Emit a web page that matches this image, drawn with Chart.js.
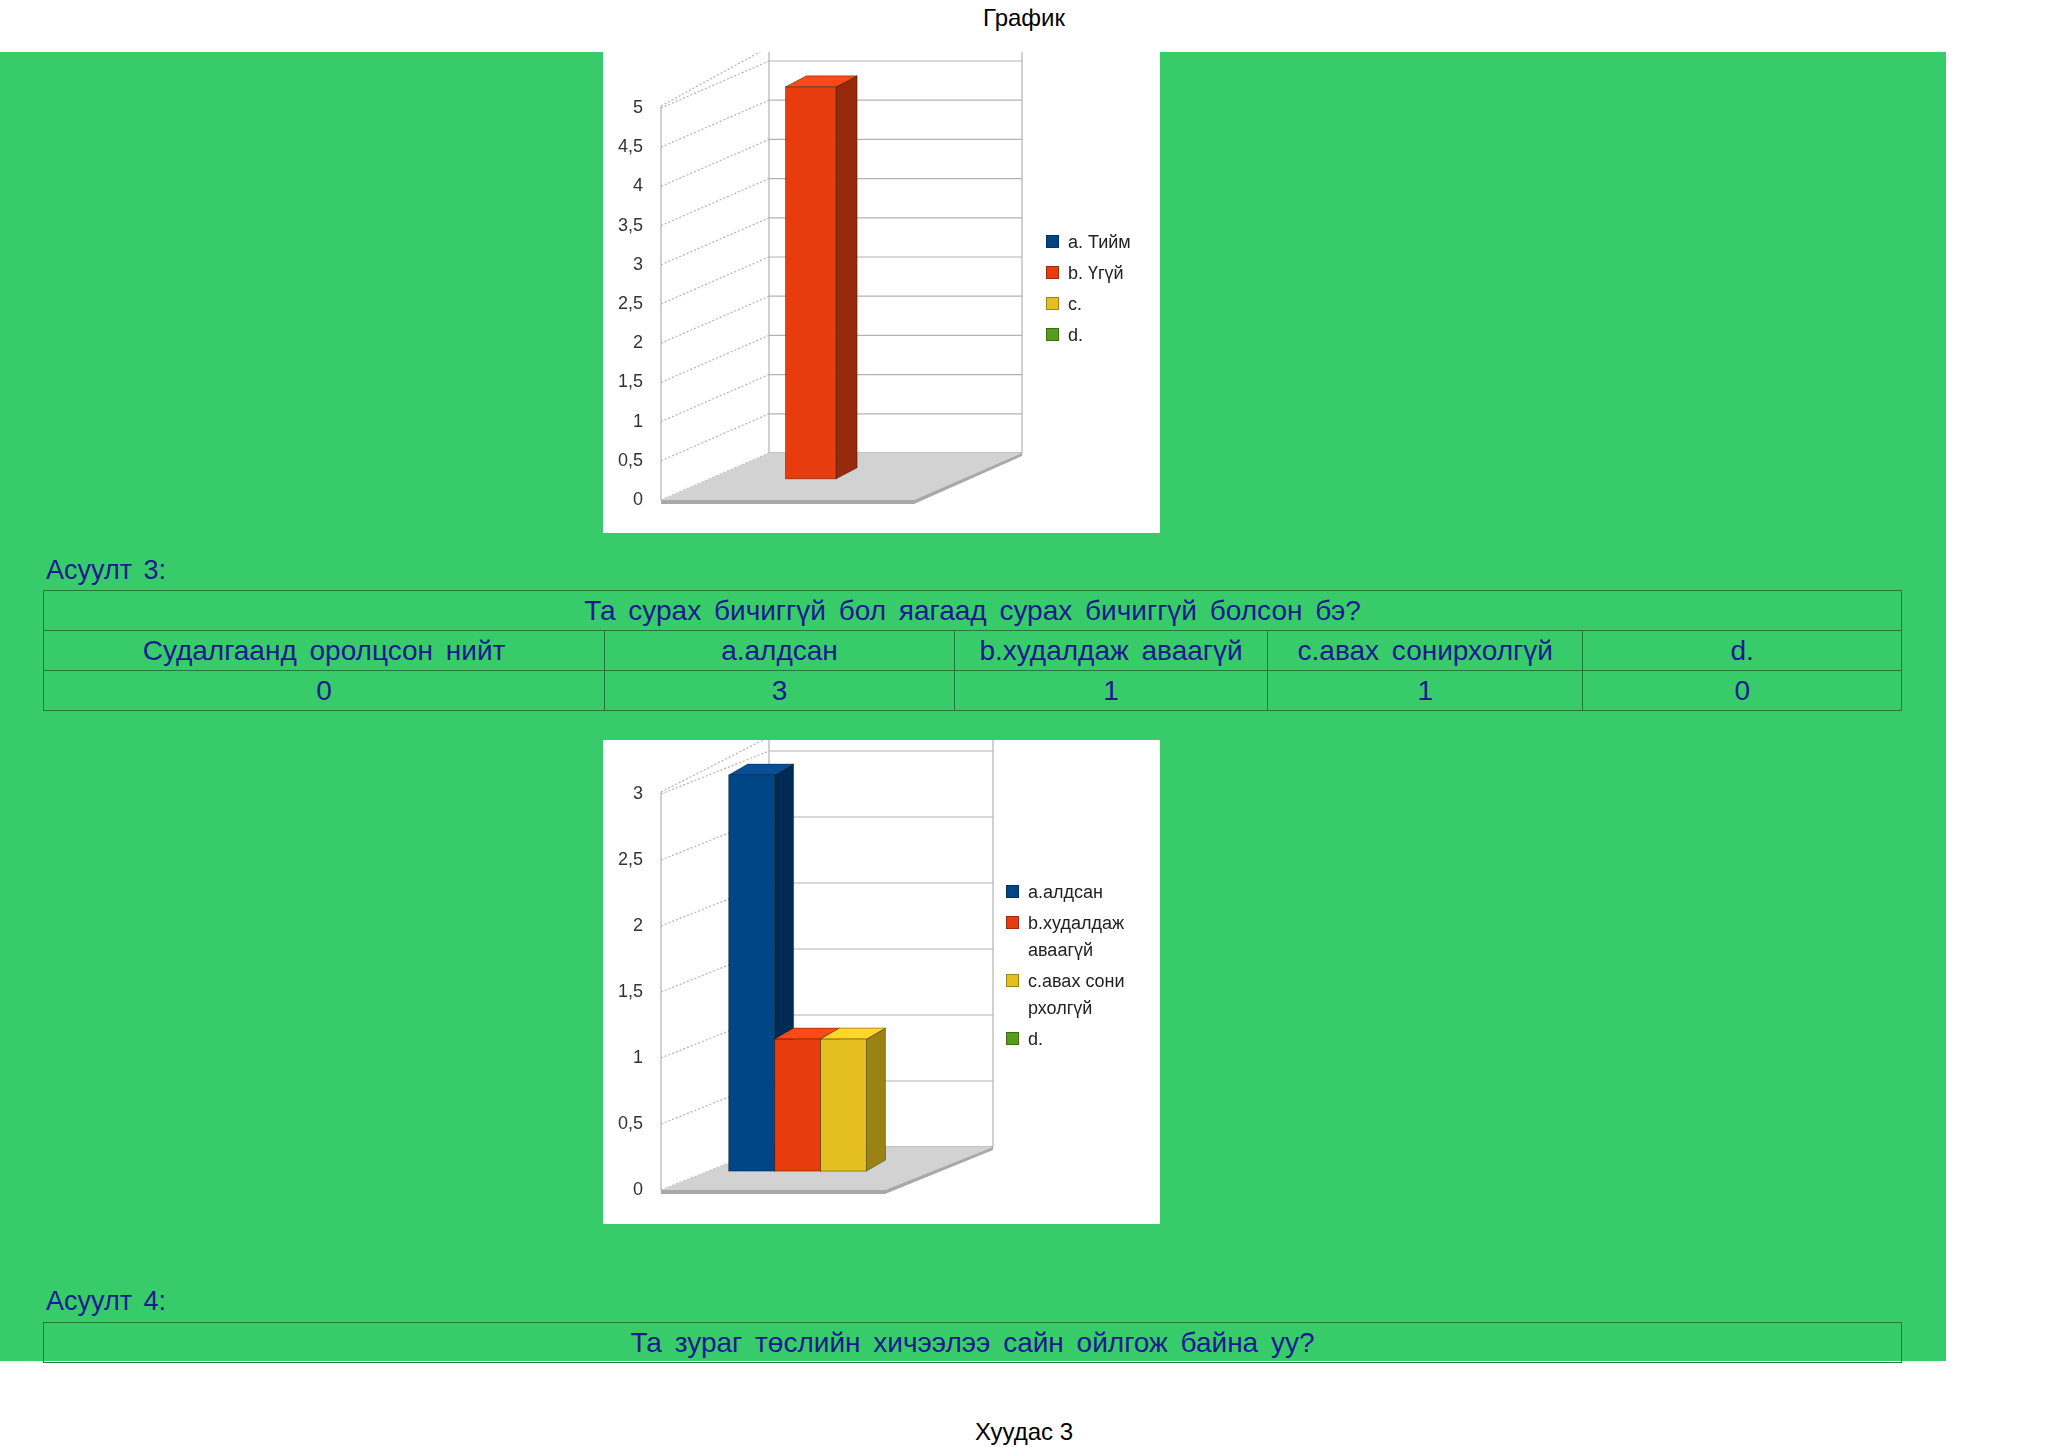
<!DOCTYPE html>
<html>
<head>
<meta charset="utf-8">
<script src="https://cdn.jsdelivr.net/npm/chart.js@4/dist/chart.umd.min.js"></script>
<style>
  body { margin: 0; width: 2048px; height: 1447px; position: relative; background: #fff; font-family: "Liberation Sans", Arial, sans-serif; overflow: hidden; }
  .abs { position: absolute; }
  #green { left: 0; top: 52px; width: 1946px; height: 1309px; background: #37cc69; }
  .box { background: #fff; width: 557px; }
  .q { color: #1a1a8f; font-size: 27px; word-spacing: 4px; }
  table { border-collapse: collapse; color: #1a1a8f; font-size: 28px; word-spacing: 5px; }
  td { border: 1px solid #1d7a3c; text-align: center; padding: 0; height: 39px; }
  .legend { font-size: 18px; color: #222; }
  .legend div { position: relative; padding-left: 22px; line-height: 27px; margin-bottom: 4px; }
  .legend span { position: absolute; left: 0; top: 6px; width: 13px; height: 13px; border: 1px solid rgba(0,0,0,0.3); box-sizing: border-box; }
</style>
</head>
<body>
<div class="abs" style="left:0;width:2048px;top:4px;text-align:center;font-size:24px;">График</div>
<div id="green" class="abs"></div>

<div class="abs box" style="left:603px;top:52px;height:481px;"><canvas id="c1"></canvas></div>
<div id="lg1" class="abs legend" style="left:1046px;top:229px;width:120px;"></div>

<div class="abs q" style="left:46px;top:555px;">Асуулт 3:</div>
<table class="abs" style="left:43px;top:590px;width:1859px;">
  <tr><td colspan="5" id="q3title"></td></tr>
  <tr id="q3head"></tr>
  <tr id="q3vals"></tr>
</table>

<div class="abs box" style="left:603px;top:740px;height:484px;"><canvas id="c2"></canvas></div>
<div id="lg2" class="abs legend" style="left:1006px;top:879px;width:128px;word-break:break-all;"></div>

<div class="abs q" style="left:46px;top:1286px;">Асуулт 4:</div>
<table class="abs" style="left:43px;top:1322px;width:1859px;">
  <tr><td id="q4title"></td></tr>
</table>

<div class="abs" style="left:0;width:2048px;top:1418px;text-align:center;font-size:24px;">Хуудас 3</div>

<script>
// chart 1 (previous question)
const labels1 = ["a. Тийм", "b. Үгүй", "c.", "d."];
const values1 = [0, 5, 0, 0];

// question 3
const q3Title = "Та сурах бичиггүй бол яагаад сурах бичиггүй болсон бэ?";
const q3Headers = ["Судалгаанд оролцсон нийт", "a.алдсан", "b.худалдаж аваагүй", "c.авах сонирхолгүй", "d."];
const q3Values = [0, 3, 1, 1, 0];
const colWidths = [562, 350, 313, 315, 319];
const labels2 = ["a.алдсан", "b.худалдаж аваагүй", "c.авах сонирхолгүй", "d."];
const values2 = [3, 1, 1, 0];

const q4Title = "Та зураг төслийн хичээлээ сайн ойлгож байна уу?";

const fronts = ["#004586", "#e63c0e", "#e3c020", "#579d1c"];
const sides = ["#002b55", "#982a0c", "#9a8215", "#386812"];
const tops = ["#0a4f96", "#ff4a18", "#ffd62a", "#62b020"];

// tables
document.getElementById("q3title").textContent = q3Title;
document.getElementById("q4title").textContent = q4Title;
q3Headers.forEach((h, i) => {
  const td = document.createElement("td");
  td.textContent = h;
  td.style.width = colWidths[i] + "px";
  document.getElementById("q3head").appendChild(td);
  const tv = document.createElement("td");
  tv.textContent = q3Values[i];
  document.getElementById("q3vals").appendChild(tv);
});

function legend(id, labels) {
  const el = document.getElementById(id);
  labels.forEach((l, i) => {
    const d = document.createElement("div");
    d.innerHTML = '<span style="background:' + fronts[i] + '"></span>';
    d.appendChild(document.createTextNode(l));
    el.appendChild(d);
  });
}
legend("lg1", labels1);
legend("lg2", labels2);

// fake 3d look: back wall, side wall, floor and bar faces
const box3d = {
  id: "box3d",
  beforeDatasetsDraw(chart, args, opts) {
    const ctx = chart.ctx;
    const x = chart.scales.x, y = chart.scales.y;
    const dx = opts.dx, dy = opts.dy;
    const left = x.left, right = x.right;
    const zero = y.getPixelForValue(0);
    const top = y.top;
    ctx.save();
    // back wall
    ctx.fillStyle = "#fff";
    ctx.strokeStyle = "#b3b3b3";
    ctx.lineWidth = 1.2;
    ctx.fillRect(left + dx, top - dy - 14, right - left, zero - top + 14);
    ctx.strokeRect(left + dx, top - dy - 14, right - left, zero - top + 14);
    y.ticks.forEach(t => {
      const py = y.getPixelForValue(t.value);
      ctx.beginPath();
      ctx.moveTo(left + dx, py - dy);
      ctx.lineTo(right + dx, py - dy);
      ctx.stroke();
      // side wall lines
      ctx.save();
      ctx.setLineDash([2, 2]);
      ctx.beginPath();
      ctx.moveTo(left, py);
      ctx.lineTo(left + dx, py - dy);
      ctx.stroke();
      ctx.restore();
    });
    ctx.save();
    ctx.setLineDash([2, 2]);
    ctx.beginPath();
    ctx.moveTo(left, top - 2);
    ctx.lineTo(left + dx, top - dy - 14);
    ctx.stroke();
    ctx.restore();
    ctx.beginPath();
    ctx.moveTo(left, top - 2);
    ctx.lineTo(left, zero);
    ctx.stroke();
    // floor
    ctx.fillStyle = "#d2d2d2";
    ctx.beginPath();
    ctx.moveTo(left, zero);
    ctx.lineTo(left + dx, zero - dy);
    ctx.lineTo(right + dx, zero - dy);
    ctx.lineTo(right, zero);
    ctx.closePath();
    ctx.fill();
    ctx.fillStyle = "#a8a8a8";
    ctx.beginPath();
    ctx.moveTo(left, zero);
    ctx.lineTo(right, zero);
    ctx.lineTo(right + dx, zero - dy);
    ctx.lineTo(right + dx, zero - dy + 3);
    ctx.lineTo(right, zero + 4);
    ctx.lineTo(left, zero + 4);
    ctx.closePath();
    ctx.fill();
    // bars
    const ox = dx * opts.frac, oy = -dy * opts.frac;
    const bx = opts.bdx, by = opts.bdy;
    chart.data.datasets.forEach((ds, i) => {
      chart.getDatasetMeta(i).data.forEach((bar, j) => {
        if (!ds.data[j]) return;
        const x0 = bar.x - bar.width / 2 + ox, x1 = bar.x + bar.width / 2 + ox;
        const y0 = bar.y + oy, y1 = bar.base + oy;
        ctx.strokeStyle = "rgba(0,0,0,0.35)";
        ctx.lineWidth = 1;
        ctx.fillStyle = sides[i];
        ctx.beginPath();
        ctx.moveTo(x1, y0); ctx.lineTo(x1 + bx, y0 - by); ctx.lineTo(x1 + bx, y1 - by); ctx.lineTo(x1, y1);
        ctx.closePath(); ctx.fill(); ctx.stroke();
        ctx.fillStyle = tops[i];
        ctx.beginPath();
        ctx.moveTo(x0, y0); ctx.lineTo(x0 + bx, y0 - by); ctx.lineTo(x1 + bx, y0 - by); ctx.lineTo(x1, y0);
        ctx.closePath(); ctx.fill(); ctx.stroke();
        ctx.fillStyle = ds.backgroundColor;
        ctx.fillRect(x0, y0, x1 - x0, y1 - y0);
        ctx.strokeRect(x0, y0, x1 - x0, y1 - y0);
      });
    });
    ctx.restore();
    return false;
  }
};

function make(id, labels, values, max, pad, d) {
  new Chart(document.getElementById(id), {
    type: "bar",
    data: {
      labels: [""],
      datasets: labels.map((l, i) => ({ label: l, data: [values[i]], backgroundColor: fronts[i] }))
    },
    options: {
      responsive: true,
      maintainAspectRatio: false,
      animation: false,
      layout: { padding: pad },
      plugins: { legend: { display: false }, tooltip: { enabled: false }, box3d: d },
      datasets: { bar: { barPercentage: 1, categoryPercentage: d.cat } },
      scales: {
        x: { display: false },
        y: {
          min: 0, max: max,
          afterFit: s => { s.width = 58; },
          grid: { display: false }, border: { display: false },
          ticks: {
            stepSize: 0.5, color: "#333", padding: 10,
            font: { family: "Liberation Sans", size: 18 },
            callback: v => String(v).replace(".", ",")
          }
        }
      }
    },
    plugins: [box3d]
  });
}

make("c1", labels1, values1, 5, { top: 56, bottom: 33, left: 0, right: 246 },
  { dx: 108, dy: 47, frac: 0.45, bdx: 21, bdy: 11, cat: 0.8 });
make("c2", labels2, values2, 3, { top: 54, bottom: 34, left: 0, right: 275 },
  { dx: 108, dy: 43, frac: 0.44, bdx: 19, bdy: 11, cat: 0.82 });
</script>
</body>
</html>
